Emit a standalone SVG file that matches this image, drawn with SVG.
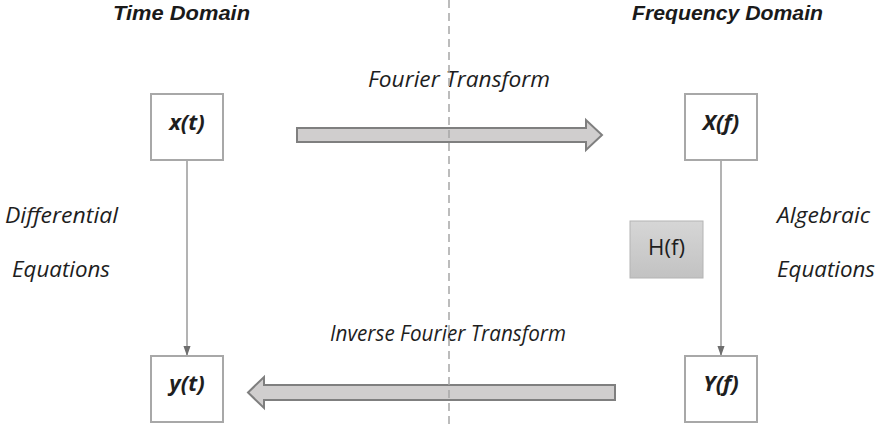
<svg xmlns="http://www.w3.org/2000/svg" width="877" height="427" viewBox="0 0 877 427">
<defs>
<style>
.t{font-family:"Open Sans","Liberation Sans",sans-serif;fill:#1e1e1e;font-size:22px}
.h{font-family:"Liberation Sans","Open Sans",sans-serif;fill:#1a1a1a;font-size:21px;font-weight:bold;font-style:italic}
.bi{font-weight:bold;font-style:italic}
.i{font-style:italic}
.box{fill:#fff;stroke:#a8a8a8;stroke-width:2}
.conn{stroke:#8a8a8a;stroke-width:1.3;fill:none}
.big{fill:#d0cece;stroke:#7f7f7f;stroke-width:2;stroke-linejoin:miter}
</style>
<linearGradient id="hg" x1="0" y1="0" x2="0" y2="1">
<stop offset="0" stop-color="#d6d6d6"/>
<stop offset="1" stop-color="#c2c2c2"/>
</linearGradient>
<marker id="ah" markerWidth="10" markerHeight="14" refX="14" refY="5" viewBox="0 0 14 10" orient="auto" markerUnits="userSpaceOnUse">
<path d="M0,0 L14,5 L0,10 z" fill="#6e6e6e"/>
</marker>
</defs>
<rect width="877" height="427" fill="#fff"/>

<g id="labels">
<text class="h" x="113" y="20" textLength="137" lengthAdjust="spacingAndGlyphs">Time Domain</text>
<text class="h" x="632" y="20" textLength="191" lengthAdjust="spacingAndGlyphs">Frequency Domain</text>
<text class="t i" x="368" y="87" textLength="182" lengthAdjust="spacingAndGlyphs">Fourier Transform</text>
<text class="t i" x="330" y="341" textLength="236" lengthAdjust="spacingAndGlyphs">Inverse Fourier Transform</text>
<text class="t i" x="5" y="223" textLength="113" lengthAdjust="spacingAndGlyphs">Differential</text>
<text class="t i" x="12" y="277" textLength="98" lengthAdjust="spacingAndGlyphs">Equations</text>
<text class="t i" x="777" y="223" textLength="93" lengthAdjust="spacingAndGlyphs">Algebraic</text>
<text class="t i" x="777" y="277" textLength="98" lengthAdjust="spacingAndGlyphs">Equations</text>
</g>

<g id="connectors">
<path class="big" d="M297,128 H586 V120 L602,135 L586,150 V142 H297 Z"/>
<path class="big" d="M615,385 H264 V377 L248,392.5 L264,408 V400 H615 Z"/>
<line class="conn" x1="187" y1="160" x2="187" y2="356" marker-end="url(#ah)"/>
<line class="conn" x1="721" y1="160" x2="721" y2="356" marker-end="url(#ah)"/>
<line x1="449" y1="0" x2="449" y2="427" stroke="#a6a6a6" stroke-width="1.5" stroke-dasharray="8,5"/>
</g>

<g id="node-xt">
<rect class="box" x="151" y="94" width="72" height="66"/>
<text class="t bi" x="187" y="130" text-anchor="middle">x(t)</text>
</g>
<g id="node-Xf">
<rect class="box" x="685" y="94" width="72" height="66"/>
<text class="t bi" x="721" y="130" text-anchor="middle">X(f)</text>
</g>
<g id="node-yt">
<rect class="box" x="151" y="356" width="72" height="66"/>
<text class="t bi" x="187" y="391" text-anchor="middle">y(t)</text>
</g>
<g id="node-Yf">
<rect class="box" x="685" y="356" width="72" height="66"/>
<text class="t bi" x="721" y="391" text-anchor="middle">Y(f)</text>
</g>
<g id="node-Hf">
<rect x="630" y="221" width="73" height="57" fill="url(#hg)" stroke="#b4b4b4" stroke-width="1"/>
<text class="t" x="666.5" y="255" text-anchor="middle" textLength="37" lengthAdjust="spacingAndGlyphs">H(f)</text>
</g>
</svg>
